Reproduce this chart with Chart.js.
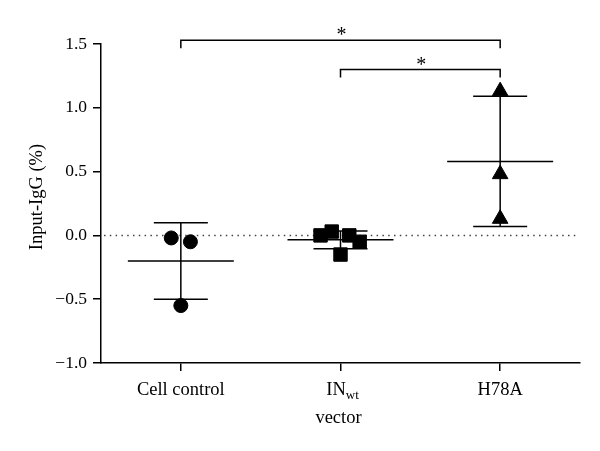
<!DOCTYPE html>
<html>
<head>
<meta charset="utf-8">
<script src="https://cdn.jsdelivr.net/npm/chart.js@4.4.1/dist/chart.umd.min.js"></script>
<style>
  html, body { margin: 0; padding: 0; background: #fff; }
  #wrap { width: 600px; height: 451px; }
</style>
</head>
<body>
<div id="wrap"><canvas id="chart"></canvas></div>
<script>
// Groups on the x axis (second one has a subscript)
const groups = ['Cell control', 'IN', 'H78A'];
const groupSubs = ['', 'wt', ''];

// Individual measurements, Input-IgG (%)
const cellControl = [-0.02, -0.05, -0.55];
const inWt = [0.0, 0.03, 0.0, -0.05, -0.15];
const h78a = [1.13, 0.48, 0.13];

// Horizontal scatter of the dots, in group widths
const cellJitter = [-0.06, 0.06, 0];
const inWtJitter = [-0.125, -0.055, 0.055, 0.12, 0];
const h78aJitter = [0, 0, 0];

// Mean and SD per group
const means = [-0.2, -0.035, 0.58];
const sds = [0.3, 0.07, 0.51];

const yTicks = [-1.0, -0.5, 0.0, 0.5, 1.0, 1.5];

// Significance brackets
const bracketFrom = [0, 1];
const bracketTo = [2, 2];
const bracketY = [1.53, 1.30];
const bracketText = ['*', '*'];

const FONT = '"Liberation Serif", "DejaVu Serif", serif';

function toPoints(values, jitter, groupIndex) {
    return values.map((v, i) => ({ x: groupIndex + 1 + jitter[i], y: v }));
}

// Mean line, SD whiskers, zero line, brackets, and custom text
const decorations = {
    id: 'decorations',
    beforeDatasetsDraw(chart) {
        const { ctx, chartArea } = chart;
        const xs = chart.scales.x;
        const ys = chart.scales.y;
        ctx.save();

        // dotted zero line
        const y0 = ys.getPixelForValue(0);
        ctx.strokeStyle = '#444';
        ctx.lineWidth = 1.5;
        ctx.setLineDash([1.5, 4.3]);
        ctx.beginPath();
        ctx.moveTo(chartArea.left + 3, y0);
        ctx.lineTo(chartArea.right - 4, y0);
        ctx.stroke();
        ctx.setLineDash([]);

        // mean +- SD
        ctx.strokeStyle = '#000';
        ctx.lineWidth = 1.5;
        means.forEach((m, i) => {
            const cx = xs.getPixelForValue(i + 1);
            const yMean = ys.getPixelForValue(m);
            const yHi = ys.getPixelForValue(m + sds[i]);
            const yLo = ys.getPixelForValue(m - sds[i]);
            ctx.beginPath();
            ctx.moveTo(cx - 53, yMean); ctx.lineTo(cx + 53, yMean);
            ctx.moveTo(cx - 27, yHi); ctx.lineTo(cx + 27, yHi);
            ctx.moveTo(cx - 27, yLo); ctx.lineTo(cx + 27, yLo);
            ctx.moveTo(cx, yHi); ctx.lineTo(cx, yLo);
            ctx.stroke();
        });
        ctx.restore();
    },
    afterDraw(chart) {
        const { ctx, chartArea } = chart;
        const xs = chart.scales.x;
        const ys = chart.scales.y;
        ctx.save();

        // brackets
        ctx.strokeStyle = '#000';
        ctx.fillStyle = '#000';
        ctx.lineWidth = 1.5;
        bracketY.forEach((v, i) => {
            const x1 = xs.getPixelForValue(bracketFrom[i] + 1);
            const x2 = xs.getPixelForValue(bracketTo[i] + 1);
            const y = ys.getPixelForValue(v);
            ctx.beginPath();
            ctx.moveTo(x1, y + 8); ctx.lineTo(x1, y);
            ctx.lineTo(x2, y); ctx.lineTo(x2, y + 8);
            ctx.stroke();
            ctx.font = '20px ' + FONT;
            ctx.textAlign = 'center';
            ctx.textBaseline = 'alphabetic';
            ctx.fillText(bracketText[i], (x1 + x2) / 2 + 1, y + 1);
        });

        // x tick labels with subscript
        ctx.textBaseline = 'alphabetic';
        groups.forEach((g, i) => {
            const cx = xs.getPixelForValue(i + 1);
            ctx.font = '18.5px ' + FONT;
            const w1 = ctx.measureText(g).width;
            ctx.font = '13px ' + FONT;
            const w2 = groupSubs[i] ? ctx.measureText(groupSubs[i]).width : 0;
            const start = cx - (w1 + w2) / 2 + (groupSubs[i] ? 2 : 0);
            ctx.textAlign = 'left';
            ctx.font = '18.5px ' + FONT;
            ctx.fillText(g, start, 395);
            if (groupSubs[i]) {
                ctx.font = '13px ' + FONT;
                ctx.fillText(groupSubs[i], start + w1, 399);
            }
        });

        // axis titles
        ctx.font = '18.5px ' + FONT;
        ctx.textAlign = 'center';
        ctx.fillText('vector', (chartArea.left + chartArea.right) / 2 - 2, 423);
        ctx.translate(37, 197);
        ctx.rotate(-Math.PI / 2);
        ctx.textBaseline = 'middle';
        ctx.fillText('Input-IgG (%)', 0, 0);
        ctx.restore();
    }
};

new Chart(document.getElementById('chart'), {
    type: 'scatter',
    data: {
        datasets: [
            {
                label: groups[0],
                data: toPoints(cellControl, cellJitter, 0),
                pointStyle: 'circle',
                pointRadius: 7,
                backgroundColor: '#000',
                borderColor: '#000'
            },
            {
                label: groups[1] + groupSubs[1],
                data: toPoints(inWt, inWtJitter, 1),
                pointStyle: 'rect',
                pointRadius: 9.5,
                backgroundColor: '#000',
                borderColor: '#000'
            },
            {
                label: groups[2],
                data: toPoints(h78a, h78aJitter, 2),
                pointStyle: 'triangle',
                pointRadius: 9,
                backgroundColor: '#000',
                borderColor: '#000'
            }
        ]
    },
    options: {
        responsive: true,
        maintainAspectRatio: false,
        animation: false,
        layout: { padding: { left: 0, right: 20, top: 44, bottom: 0 } },
        plugins: {
            legend: { display: false },
            tooltip: { enabled: false }
        },
        scales: {
            x: {
                type: 'linear',
                min: 0.5,
                max: 3.5,
                afterBuildTicks: scale => {
                    scale.ticks = groups.map((g, i) => ({ value: i + 1 }));
                },
                afterFit: scale => { scale.height = 88; },
                ticks: { display: false },
                grid: {
                    drawOnChartArea: false,
                    drawTicks: true,
                    tickLength: 8,
                    color: '#000',
                    lineWidth: 1.5
                },
                border: { color: '#000', width: 1.5 }
            },
            y: {
                min: -1,
                max: 1.5,
                afterBuildTicks: scale => {
                    scale.ticks = yTicks.map(v => ({ value: v }));
                },
                afterFit: scale => { scale.width = 101; },
                ticks: {
                    color: '#000',
                    padding: 6,
                    font: { family: FONT, size: 17.5 },
                    callback: v => (v < 0 ? '\u2212' : '') + Math.abs(v).toFixed(1)
                },
                grid: {
                    drawOnChartArea: false,
                    drawTicks: true,
                    tickLength: 8,
                    color: '#000',
                    lineWidth: 1.5
                },
                border: { color: '#000', width: 1.5 }
            }
        }
    },
    plugins: [decorations]
});
</script>
</body>
</html>
